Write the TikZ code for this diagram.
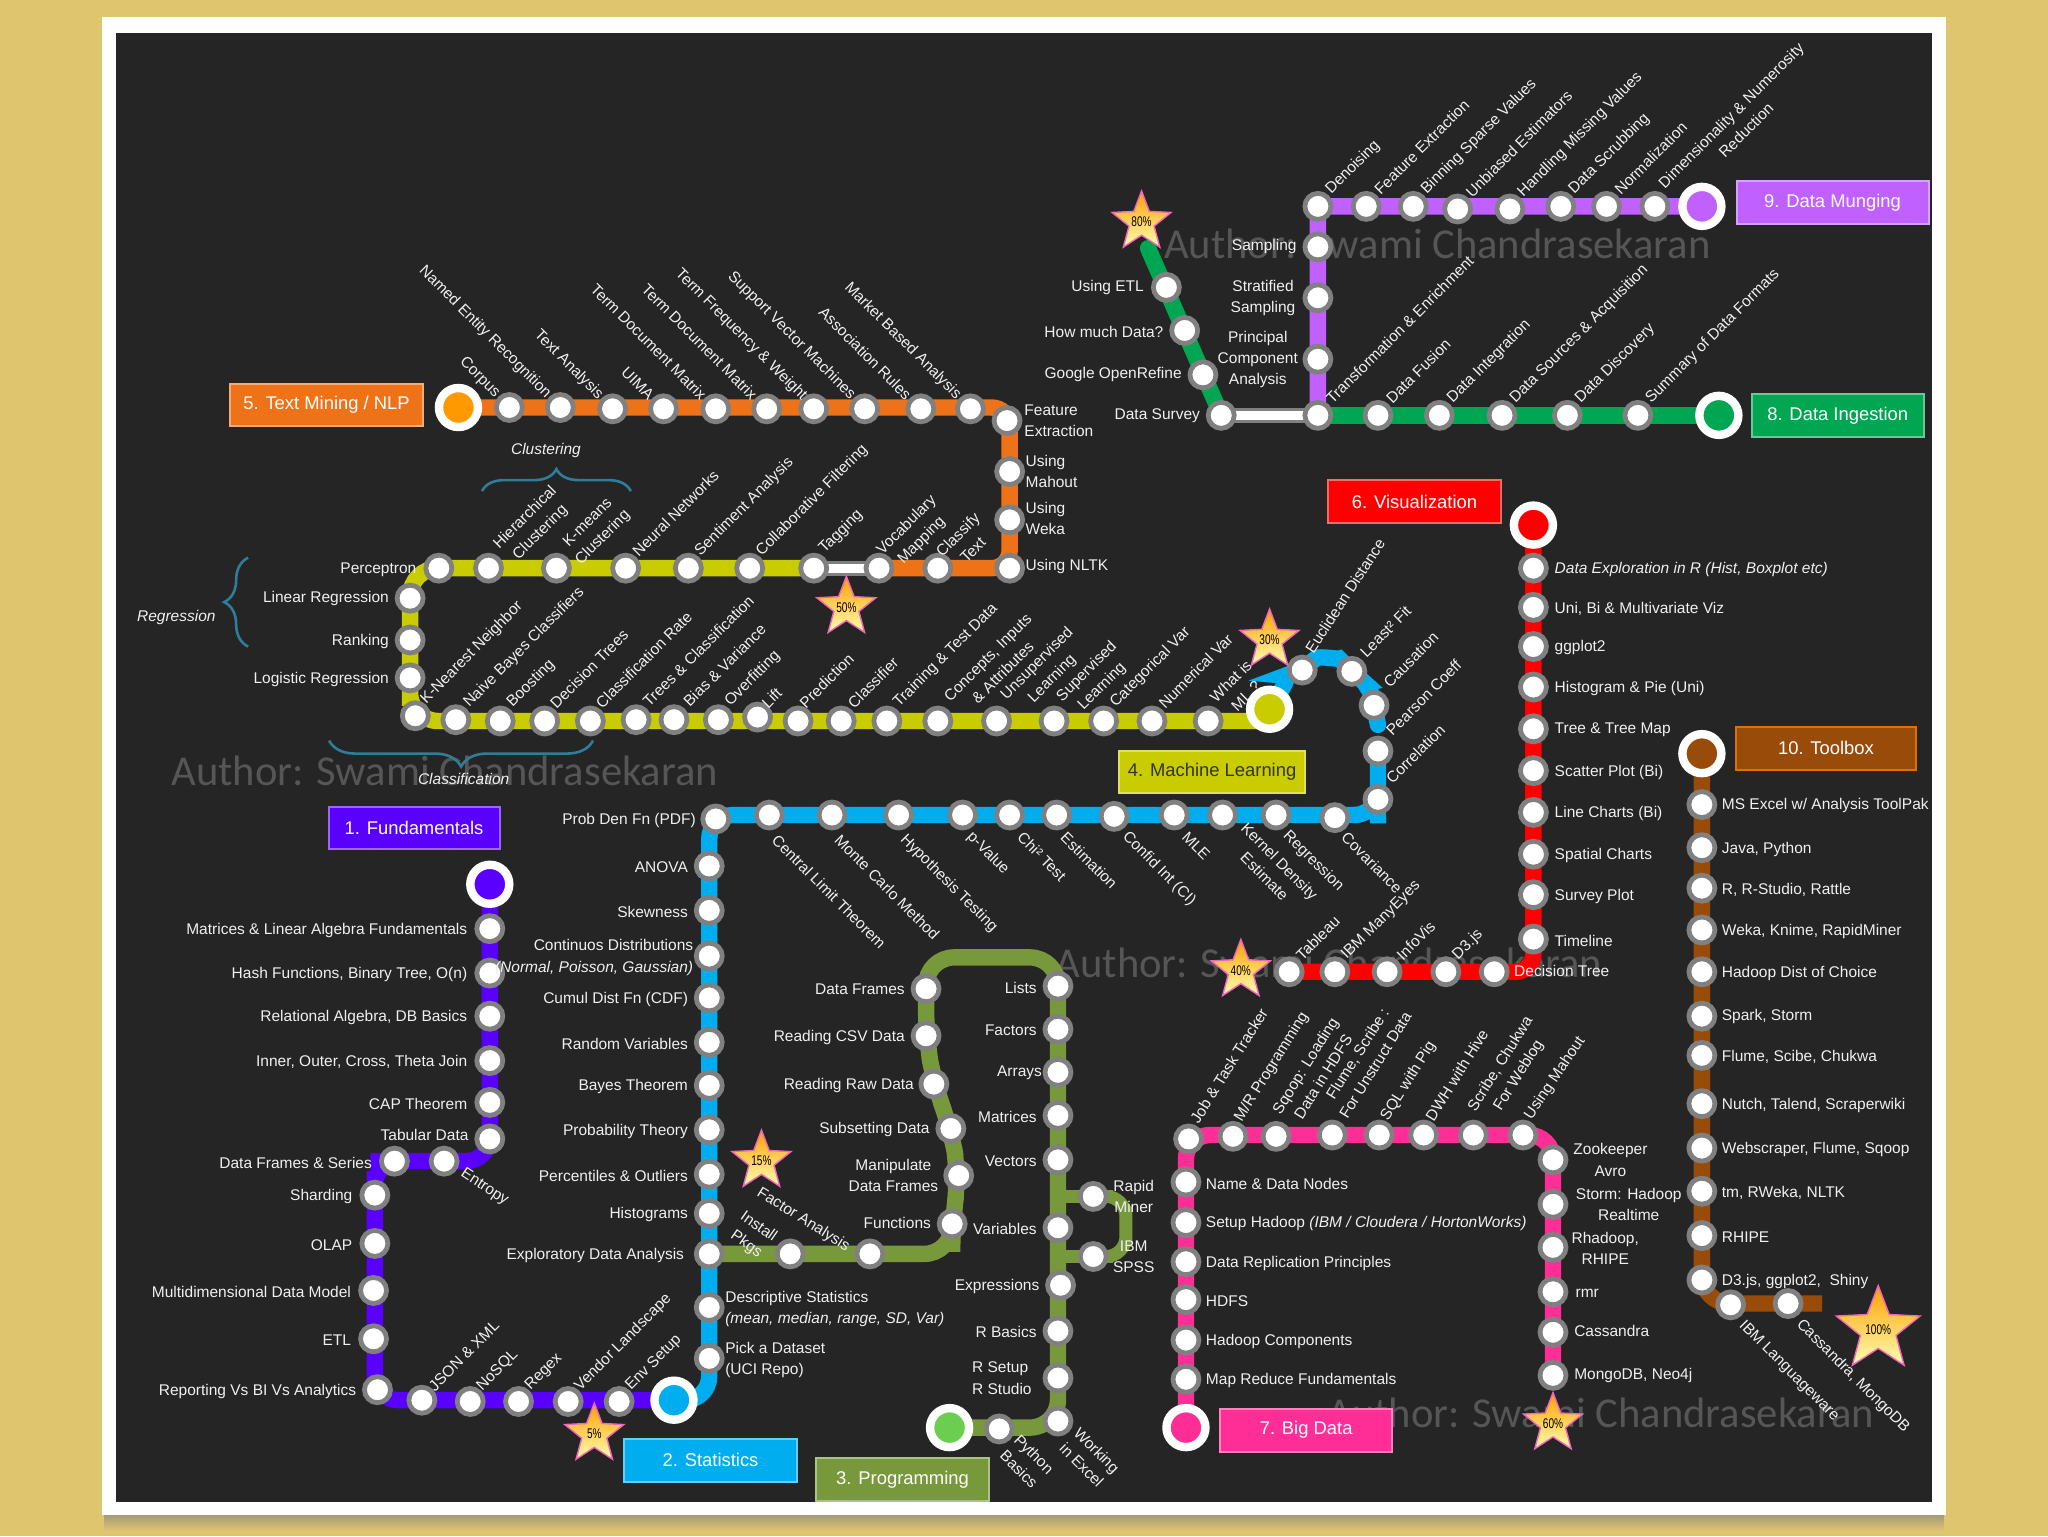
\documentclass[tikz,border=0pt]{standalone}
\usepackage{xcolor}
\usepackage{fontspec}
\usepackage{tikz}
\usetikzlibrary{backgrounds,shapes.geometric,decorations.pathreplacing}
\setmainfont{Liberation Sans}
\newfontfamily\wmfont{Carlito}
\newfontfamily\pctfont[FakeStretch=0.72]{Liberation Sans}

\definecolor{pagetan}{HTML}{DFC56E}
\definecolor{panel}{HTML}{252525}
\definecolor{fucol}{HTML}{5A00FF}
\definecolor{stcol}{HTML}{00AEEF}
\definecolor{prcol}{HTML}{77993C}
\definecolor{mlcol}{HTML}{C8CC00}
\definecolor{tmcol}{HTML}{EE7318}
\definecolor{vicol}{HTML}{FF0000}
\definecolor{bicol}{HTML}{FF2D96}
\definecolor{dicol}{HTML}{00A651}
\definecolor{dmcol}{HTML}{C060FF}
\definecolor{tocol}{HTML}{994C0A}
\definecolor{bracecol}{HTML}{2E7D9A}
\definecolor{txtcol}{HTML}{F0F0F0}
\definecolor{wmcol}{HTML}{565656}

\tikzset{
    stn/.style={circle,draw=gray,fill=white,line width=2.4pt,minimum size=13pt,inner sep=0pt},
    termin/.style={circle,draw=white,line width=4.2pt,minimum size=19.5pt,inner sep=0pt},
    metro/.style={line width=8.2pt,rounded corners=9pt},
    link/.style={line width=1.5pt,draw=gray,double=white,double distance=4.6pt},
    txt/.style={text=txtcol,font=\fontsize{7.75}{10.6}\selectfont,inner sep=0pt,yshift=-0.7pt},
    txtl/.style={txt,anchor=east},
    txtr/.style={txt,anchor=west,align=left},
    txtc/.style={txt,align=center},
    txtne/.style={txt,anchor=west,rotate=45},
    txtse/.style={txt,anchor=west,rotate=-45},
    txtnw/.style={txt,anchor=east,rotate=-45},
    banner/.style={minimum width=#1*0.653pt,minimum height=21.4pt,inner sep=0pt,text=white,
        line width=1pt,font=\fontsize{9.2}{11}\selectfont},
    pct/.style={star,star points=5,star point ratio=2.35,inner sep=-2.5pt,draw=magenta!60!white,line width=.7pt,
        top color=orange!75!yellow,bottom color=yellow!30!white,text=black,font=\pctfont\fontsize{7}{8}\selectfont},
    watermark/.style={text=wmcol,font=\wmfont\fontsize{21.3}{24}\selectfont,inner sep=0pt},
    brc/.style={draw=bracecol,line width=1.3pt,decorate},
}

\begin{document}
\begin{tikzpicture}[x=0.65306pt,y=-0.65306pt]
    \useasboundingbox (0,0) rectangle (1568,1176);

    % Page, frame and dark panel
    \begin{scope}[on background layer]
        \fill[pagetan] (0,0) rectangle (1568,1176);
        \shade[top color=gray!70!pagetan,bottom color=pagetan] (80,1158) rectangle (1488,1172);
        \fill[white] (78,13) rectangle (1490,1160);
        \fill[panel] (89,25) rectangle (1479,1150);
        \node[watermark,anchor=west] (wm1) at (891,187) {Author: Swami Chandrasekaran};
        \node[watermark,anchor=west] (wm2) at (131,590) {Author: Swami Chandrasekaran};
        \node[watermark,anchor=west] (wm3) at (808,737) {Author: Swami Chandrasekaran};
        \node[watermark,anchor=west] (wm4) at (1016,1082) {Author: Swami Chandrasekaran};
    \end{scope}

    % 1. Fundamentals
    \node[banner=131,fill=fucol,draw=fucol!60!white] (fuB) at (317,634) {1. Fundamentals};
    \node[termin,fill=fucol] (fuT) at (375,677) {};
    \node[stn] (fu1) at (375,711) {};   \node[txtl] (fu1t) at (358,711) {Matrices \& Linear Algebra Fundamentals};
    \node[stn] (fu2) at (375,745) {};   \node[txtl] (fu2t) at (358,745) {Hash Functions, Binary Tree, O(n)};
    \node[stn] (fu3) at (375,778) {};   \node[txtl] (fu3t) at (358,778) {Relational Algebra, DB Basics};
    \node[stn] (fu4) at (375,812) {};   \node[txtl] (fu4t) at (358,812) {Inner, Outer, Cross, Theta Join};
    \node[stn] (fu5) at (375,844) {};   \node[txtl] (fu5t) at (358,844) {CAP Theorem};
    \node[stn] (fu6) at (375,872) {};   \node[txtl] (fu6t) at (359,868) {Tabular Data};
    \node[stn] (fu7) at (340,889) {};   \node[txtc,rotate=-33] (fu7t) at (371,908) {Entropy};
    \node[stn] (fu8) at (302,889) {};   \node[txtl] (fu8t) at (285,889) {Data Frames \& Series};
    \node[stn] (fu9) at (287,915) {};   \node[txtl] (fu9t) at (270,915) {Sharding};
    \node[stn] (fu10) at (287,952) {};  \node[txtl] (fu10t) at (270,952) {OLAP};
    \node[stn] (fu11) at (286,988) {};  \node[txtl] (fu11t) at (269,988) {Multidimensional Data Model};
    \node[stn] (fu12) at (286,1025) {}; \node[txtl] (fu12t) at (269,1025) {ETL};
    \node[stn] (fu13) at (289,1064) {}; \node[txtl] (fu13t) at (273,1064) {Reporting Vs BI Vs Analytics};
    \node[stn] (fu14) at (323,1072) {}; \node[txtne] (fu14t) at (330,1062) {JSON \& XML};
    \node[stn] (fu15) at (360,1073) {}; \node[txtne] (fu15t) at (367,1062) {NoSQL};
    \node[stn] (fu16) at (397,1073) {}; \node[txtne] (fu16t) at (404,1062) {Regex};
    \node[stn] (fu17) at (435,1073) {}; \node[txtne] (fu17t) at (442,1062) {Vendor Landscape};
    \node[stn] (fu18) at (474,1073) {}; \node[txtne] (fu18t) at (481,1062) {Env Setup};

    % 2. Statistics
    \node[banner=132,fill=stcol,draw=stcol!60!white] (stB) at (544,1118) {2. Statistics};
    \node[termin,fill=stcol] (stT) at (516,1072) {};
    \node[stn] (st1) at (543,1040) {};  \node[txtr] (st1t) at (555,1040) {Pick a Dataset\\(UCI Repo)};
    \node[stn] (st2) at (543,1001) {};  \node[txtr] (st2t) at (555,1001) {Descriptive Statistics\\\textit{(mean, median, range, SD, Var)}};
    \node[stn] (st3) at (543,960) {};   \node[txtl] (st3t) at (524,960) {Exploratory Data Analysis};
    \node[stn] (st4) at (543,929) {};   \node[txtl] (st4t) at (527,929) {Histograms};
    \node[stn] (st5) at (543,899) {};   \node[txtl] (st5t) at (527,899) {Percentiles \& Outliers};
    \node[stn] (st6) at (543,865) {};   \node[txtl] (st6t) at (527,865) {Probability Theory};
    \node[stn] (st7) at (543,831) {};   \node[txtl] (st7t) at (527,831) {Bayes Theorem};
    \node[stn] (st8) at (543,798) {};   \node[txtl] (st8t) at (527,798) {Random Variables};
    \node[stn] (st9) at (543,764) {};   \node[txtl] (st9t) at (527,764) {Cumul Dist Fn (CDF)};
    \node[stn] (st10) at (543,732) {};  \node[txtl,align=right] (st10t) at (531,732) {Continuos Distributions\\\textit{(Normal, Poisson, Gaussian)}};
    \node[stn] (st11) at (543,697) {};  \node[txtl] (st11t) at (527,697) {Skewness};
    \node[stn] (st12) at (543,663) {};  \node[txtl] (st12t) at (527,663) {ANOVA};
    \node[stn] (st13) at (548,627) {};  \node[txtl] (st13t) at (533,627) {Prob Den Fn (PDF)};
    \node[stn] (st14) at (589,624) {};  \node[txtse] (st14t) at (593,640) {Central Limit Theorem};
    \node[stn] (st15) at (637,624) {};  \node[txtse] (st15t) at (641,640) {Monte Carlo Method};
    \node[stn] (st16) at (688,624) {};  \node[txtse] (st16t) at (691,640) {Hypothesis Testing};
    \node[stn] (st17) at (737,624) {};  \node[txtse] (st17t) at (742,638) {p-Value};
    \node[stn] (st18) at (773,624) {};  \node[txtse] (st18t) at (781,638) {Chi² Test};
    \node[stn] (st19) at (809,624) {};  \node[txtse] (st19t) at (814,638) {Estimation};
    \node[stn] (st20) at (853,625) {};  \node[txtse] (st20t) at (861,638) {Confid Int (CI)};
    \node[stn] (st21) at (899,624) {};  \node[txtse] (st21t) at (907,638) {MLE};
    \node[stn] (st22) at (936,624) {};  \node[txtc,rotate=-45] (st22t) at (974,664) {Kernel Density\\Estimate};
    \node[stn] (st23) at (977,624) {};  \node[txtse] (st23t) at (984,637) {Regression};
    \node[stn] (st24) at (1022,626) {}; \node[txtse] (st24t) at (1029,638) {Covariance};
    \node[stn] (st25) at (1055,612) {}; \node[txtne] (st25t) at (1063,597) {Correlation};
    \node[stn] (st26) at (1055,575) {}; \node[txtne] (st26t) at (1063,560) {Pearson Coeff};
    \coordinate (stE) at (1055,555);
    \node[stn] (st27) at (1052,540) {}; \node[txtne] (st27t) at (1061,523) {Causation};
    \node[stn] (st28) at (1035,514) {}; \node[txtne] (st28t) at (1043,500) {Least² Fit};
    \node[stn] (st29) at (997,513) {};  \node[txt,anchor=west,rotate=57] (st29t) at (1002,498) {Euclidean Distance};

    % 3. Programming
    \node[banner=132,fill=prcol,draw=prcol!60!white] (prB) at (691,1133) {3. Programming};
    \node[termin,fill=prcol!60!green!80!white] (prT) at (727,1093) {};
    \node[stn] (pr1) at (765,1094) {};  \node[txtc,rotate=-45] (pr1t) at (786,1118) {Python\\Basics};
    \node[stn] (pr2) at (810,1088) {};  \node[txtc,rotate=-45] (pr2t) at (834,1115) {Working\\in Excel};
    \node[stn] (pr3) at (810,1055) {};  \node[txtr] (pr3t) at (744,1054) {R Setup\\R Studio};
    \node[stn] (pr4) at (810,1019) {};  \node[txtl] (pr4t) at (794,1019) {R Basics};
    \node[stn] (pr5) at (812,984) {};   \node[txtl] (pr5t) at (796,984) {Expressions};
    \node[stn] (pr6) at (810,940) {};   \node[txtl] (pr6t) at (794,940) {Variables};
    \node[stn] (pr7) at (810,888) {};   \node[txtl] (pr7t) at (794,888) {Vectors};
    \node[stn] (pr8) at (810,854) {};   \node[txtl] (pr8t) at (794,854) {Matrices};
    \node[stn] (pr9) at (810,821) {};   \node[txtl] (pr9t) at (798,820) {Arrays};
    \node[stn] (pr10) at (810,788) {};  \node[txtl] (pr10t) at (794,788) {Factors};
    \node[stn] (pr11) at (810,755) {};  \node[txtl] (pr11t) at (794,755) {Lists};
    \node[stn] (pr12) at (709,757) {};  \node[txtl] (pr12t) at (693,756) {Data Frames};
    \node[stn] (pr13) at (709,793) {};  \node[txtl] (pr13t) at (693,793) {Reading CSV Data};
    \node[stn] (pr14) at (715,830) {};  \node[txtl] (pr14t) at (700,830) {Reading Raw Data};
    \node[stn] (pr15) at (728,864) {};  \node[txtl] (pr15t) at (712,864) {Subsetting Data};
    \node[stn] (pr16) at (734,900) {};  \node[txtc] (pr16t) at (684,899) {Manipulate\\Data Frames};
    \node[stn] (pr17) at (729,937) {};  \node[txtl] (pr17t) at (713,935) {Functions};
    \node[stn] (pr18) at (666,960) {};  \node[txtc,rotate=-32] (pr18t) at (615,933) {Factor Analysis};
    \node[stn] (pr19) at (605,960) {};  \node[txtc,rotate=-35] (pr19t) at (576,945) {Install\\Pkgs};
    \node[stn] (prR) at (837,916) {};   \node[txtc] (prRt) at (868,915) {Rapid\\Miner};
    \node[stn] (prS) at (837,962) {};   \node[txtc] (prSt) at (868,961) {IBM\\SPSS};
    \coordinate (prA) at (810,733);
    \coordinate (prC) at (709,733);
    \coordinate (prD) at (862,939);

    % 4. Machine Learning
    \node[banner=143,fill=mlcol,draw=mlcol!60!white,text=black!80] (mlB) at (928,591) {4. Machine Learning};
    \node[termin,fill=mlcol] (mlT) at (972,543) {};
    \node[stn] (ml1) at (925,552) {};   \node[txtc,rotate=45] (ml1t) at (948,526) {What is\\ML ?};
    \node[stn] (ml2) at (882,552) {};   \node[txtne] (ml2t) at (889,539) {Numerical Var};
    \node[stn] (ml3) at (845,552) {};   \node[txtne] (ml3t) at (852,539) {Categorical Var};
    \node[stn] (ml4) at (807,552) {};   \node[txtc,rotate=45] (ml4t) at (838,519) {Supervised\\Learning};
    \node[stn] (ml5) at (763,552) {};   \node[txtc,rotate=45] (ml5t) at (800,513) {Unsupervised\\Learning};
    \node[stn] (ml6) at (718,552) {};   \node[txtc,rotate=45] (ml6t) at (762,508) {Concepts, Inputs\\\& Attributes};
    \node[stn] (ml7) at (679,552) {};   \node[txtne] (ml7t) at (686,539) {Training \& Test Data};
    \node[stn] (ml8) at (644,552) {};   \node[txtne] (ml8t) at (651,539) {Classifier};
    \node[stn] (ml9) at (611,552) {};   \node[txtne] (ml9t) at (614,539) {Prediction};
    \node[stn] (ml10) at (580,549) {};  \node[txtne] (ml10t) at (585,539) {Lift};
    \node[stn] (ml11) at (550,551) {};  \node[txtne] (ml11t) at (557,538) {Overfitting};
    \node[stn] (ml12) at (516,551) {};  \node[txtne] (ml12t) at (525,538) {Bias \& Variance};
    \node[stn] (ml13) at (487,551) {};  \node[txtne] (ml13t) at (494,538) {Trees \& Classification};
    \node[stn] (ml14) at (452,552) {};  \node[txtne] (ml14t) at (458,539) {Classification Rate};
    \node[stn] (ml15) at (417,552) {};  \node[txtne] (ml15t) at (423,539) {Decision Trees};
    \node[stn] (ml16) at (383,552) {};  \node[txtne] (ml16t) at (390,539) {Boosting};
    \node[stn] (ml17) at (349,551) {};  \node[txtne] (ml17t) at (357,539) {Naive Bayes Classifiers};
    \node[stn] (ml18) at (318,548) {};  \node[txtne] (ml18t) at (324,536) {K-Nearest Neighbor};
    \node[stn] (ml19) at (314,519) {};  \node[txtl] (ml19t) at (298,519) {Logistic Regression};
    \node[stn] (ml20) at (314,490) {};  \node[txtl] (ml20t) at (298,490) {Ranking};
    \node[stn] (ml21) at (314,458) {};  \node[txtl] (ml21t) at (298,457) {Linear Regression};
    \node[stn] (ml22) at (336,435) {};  \node[txtl] (ml22t) at (319,435) {Perceptron};
    \node[stn] (ml23) at (374,435) {};  \node[txtc,rotate=45] (ml23t) at (408,401) {Hierarchical\\Clustering};
    \node[stn] (ml24) at (426,435) {};  \node[txtc,rotate=45] (ml24t) at (456,405) {K-means\\Clustering};
    \node[stn] (ml25) at (479,435) {};  \node[txtne] (ml25t) at (486,423) {Neural Networks};
    \node[stn] (ml26) at (527,435) {};  \node[txtne] (ml26t) at (534,423) {Sentiment Analysis};
    \node[stn] (ml27) at (574,435) {};  \node[txtne] (ml27t) at (581,423) {Collaborative Filtering};
    \node[stn] (ml28) at (623,435) {};  \node[txtne] (ml28t) at (629,421) {Tagging};

    % Braces over the groups of stations
    \draw[brc,decoration={brace,amplitude=11pt}] (369,376) -- (483,376);
    \draw[brc,decoration={brace,amplitude=12pt}] (190,495) -- (190,427);
    \draw[brc,decoration={brace,amplitude=13pt}] (454,567) -- (252,567);
    \node[txtc] (clusterT) at (418,344) {\textit{Clustering}};
    \node[txtc] (regressT) at (135,472) {\textit{Regression}};
    \node[txtc] (classifT) at (355,595) {\textit{Classification}};

    % 5. Text Mining
    \node[banner=148,fill=tmcol,draw=tmcol!60!white] (tmB) at (250,310) {5. Text Mining / NLP};
    \node[termin,fill=orange!80!yellow] (tmT) at (351,312) {};
    \node[stn] (tm1) at (390,312) {};   \node[txtnw] (tm1t) at (381,302) {Corpus};
    \node[stn] (tm2) at (429,312) {};   \node[txtnw] (tm2t) at (420,302) {Named Entity Recognition};
    \node[stn] (tm3) at (469,313) {};   \node[txtnw] (tm3t) at (460,303) {Text Analysis};
    \node[stn] (tm4) at (508,313) {};   \node[txtnw] (tm4t) at (499,303) {UIMA};
    \node[stn] (tm5) at (548,313) {};   \node[txtnw] (tm5t) at (539,303) {Term Document Matrix};
    \node[stn] (tm6) at (587,313) {};   \node[txtnw] (tm6t) at (578,303) {Term Document Matrix};
    \node[stn] (tm7) at (623,313) {};   \node[txtnw] (tm7t) at (616,304) {Term Frequency \& Weight};
    \node[stn] (tm8) at (662,313) {};   \node[txtnw] (tm8t) at (653,303) {Support Vector Machines};
    \node[stn] (tm9) at (705,313) {};   \node[txtnw] (tm9t) at (696,303) {Association Rules};
    \node[stn] (tm10) at (743,313) {};  \node[txtnw] (tm10t) at (734,303) {Market Based Analysis};
    \node[stn] (tm11) at (771,322) {};  \node[txtr] (tm11t) at (784,321) {Feature\\Extraction};
    \node[stn] (tm12) at (773,361) {};  \node[txtr] (tm12t) at (785,360) {Using\\Mahout};
    \node[stn] (tm13) at (773,398) {};  \node[txtr] (tm13t) at (785,396) {Using\\Weka};
    \node[stn] (tm14) at (773,435) {};  \node[txtr] (tm14t) at (785,433) {Using NLTK};
    \node[stn] (tm15) at (718,435) {};  \node[txtc,rotate=45] (tm15t) at (739,414) {Classify\\Text};
    \node[stn] (tm16) at (673,435) {};  \node[txtc,rotate=45] (tm16t) at (700,407) {Vocabulary\\Mapping};

    % 6. Visualization
    \node[banner=132,fill=vicol,draw=vicol!60!white] (viB) at (1083,384) {6. Visualization};
    \node[termin,fill=vicol] (viT) at (1174,402) {};
    \node[stn] (vi1) at (1174,435) {};  \node[txtr] (vi1t) at (1190,435) {\textit{Data Exploration in R (Hist, Boxplot etc)}};
    \node[stn] (vi2) at (1174,465) {};  \node[txtr] (vi2t) at (1190,465) {Uni, Bi \& Multivariate Viz};
    \node[stn] (vi3) at (1174,495) {};  \node[txtr] (vi3t) at (1190,495) {ggplot2};
    \node[stn] (vi4) at (1174,526) {};  \node[txtr] (vi4t) at (1190,526) {Histogram \& Pie (Uni)};
    \node[stn] (vi5) at (1174,558) {};  \node[txtr] (vi5t) at (1190,558) {Tree \& Tree Map};
    \node[stn] (vi6) at (1174,590) {};  \node[txtr] (vi6t) at (1190,590) {Scatter Plot (Bi)};
    \node[stn] (vi7) at (1174,622) {};  \node[txtr] (vi7t) at (1190,622) {Line Charts (Bi)};
    \node[stn] (vi8) at (1174,654) {};  \node[txtr] (vi8t) at (1190,654) {Spatial Charts};
    \node[stn] (vi9) at (1174,685) {};  \node[txtr] (vi9t) at (1190,685) {Survey Plot};
    \node[stn] (vi10) at (1174,719) {}; \node[txtr] (vi10t) at (1190,719) {Timeline};
    \node[stn] (vi11) at (1144,744) {}; \node[txtr] (vi11t) at (1159,742) {Decision Tree};
    \node[stn] (vi12) at (1107,744) {}; \node[txtne] (vi12t) at (1114,732) {D3.js};
    \node[stn] (vi13) at (1062,744) {}; \node[txtne] (vi13t) at (1071,732) {InfoVis};
    \node[stn] (vi14) at (1022,744) {}; \node[txtne] (vi14t) at (1029,732) {IBM ManyEyes};
    \node[stn] (vi15) at (987,744) {};  \node[txtne] (vi15t) at (994,732) {Tableau};

    % 7. Big Data
    \node[banner=132,fill=bicol,draw=bicol!60!white] (biB) at (1000,1095) {7. Big Data};
    \node[termin,fill=bicol] (biT) at (908,1093) {};
    \node[stn] (bi1) at (908,1056) {};  \node[txtr] (bi1t) at (923,1056) {Map Reduce Fundamentals};
    \node[stn] (bi2) at (908,1026) {};  \node[txtr] (bi2t) at (923,1026) {Hadoop Components};
    \node[stn] (bi3) at (908,995) {};   \node[txtr] (bi3t) at (923,995) {HDFS};
    \node[stn] (bi4) at (908,966) {};   \node[txtr] (bi4t) at (923,966) {Data Replication Principles};
    \node[stn] (bi5) at (908,936) {};   \node[txtr] (bi5t) at (923,936) {Setup Hadoop \textit{(IBM / Cloudera / HortonWorks)}};
    \node[stn] (bi6) at (908,905) {};   \node[txtr] (bi6t) at (923,905) {Name \& Data Nodes};
    \node[stn] (bi7) at (910,872) {};   \node[txt,anchor=west,rotate=58] (bi7t) at (914,858) {Job \& Task Tracker};
    \node[stn] (bi8) at (944,870) {};   \node[txt,anchor=west,rotate=58] (bi8t) at (948,857) {M/R Programming};
    \node[stn] (bi9) at (977,870) {};   \node[txtc,rotate=58] (bi9t) at (1006,819) {Sqoop: Loading\\Data in HDFS};
    \node[stn] (bi10) at (1020,869) {}; \node[txtc,rotate=58] (bi10t) at (1046,810) {Flume, Scribe :\\For Unstruct Data};
    \node[stn] (bi11) at (1056,869) {}; \node[txt,anchor=west,rotate=58] (bi11t) at (1060,856) {SQL with Pig};
    \node[stn] (bi12) at (1090,869) {}; \node[txt,anchor=west,rotate=58] (bi12t) at (1094,856) {DWH with Hive};
    \node[stn] (bi13) at (1128,869) {}; \node[txtc,rotate=58] (bi13t) at (1156,818) {Scribe, Chukwa\\For Weblog};
    \node[stn] (bi14) at (1166,869) {}; \node[txt,anchor=west,rotate=56] (bi14t) at (1170,855) {Using Mahout};
    \node[stn] (bi15) at (1189,888) {}; \node[txtc] (bi15t) at (1233,887) {Zookeeper\\Avro};
    \node[stn] (bi16) at (1189,922) {}; \node[txtc] (bi16t) at (1247,921) {Storm: Hadoop\\Realtime};
    \node[stn] (bi17) at (1189,955) {}; \node[txtc] (bi17t) at (1229,955) {Rhadoop,\\RHIPE};
    \node[stn] (bi18) at (1189,989) {}; \node[txtr] (bi18t) at (1206,989) {rmr};
    \node[stn] (bi19) at (1189,1020) {};\node[txtr] (bi19t) at (1205,1018) {Cassandra};
    \node[stn] (bi20) at (1189,1053) {};\node[txtr] (bi20t) at (1205,1052) {MongoDB, Neo4j};

    % 8. Data Ingestion
    \node[banner=132,fill=dicol,draw=dicol!60!white] (diB) at (1407,318) {8. Data Ingestion};
    \node[termin,fill=dicol] (diT) at (1316,318) {};
    \node[stn] (di1) at (1254,318) {};  \node[txtne] (di1t) at (1262,306) {Summary of Data Formats};
    \node[stn] (di2) at (1200,318) {};  \node[txtne] (di2t) at (1208,306) {Data Discovery};
    \node[stn] (di3) at (1150,318) {};  \node[txtne] (di3t) at (1158,306) {Data Sources \& Acquisition};
    \node[stn] (di4) at (1102,318) {};  \node[txtne] (di4t) at (1110,306) {Data Integration};
    \node[stn] (di5) at (1055,318) {};  \node[txtne] (di5t) at (1063,306) {Data Fusion};
    \node[stn] (di6) at (1009,318) {};  \node[txtne] (di6t) at (1017,306) {Transformation \& Enrichment};
    \node[stn] (di7) at (935,318) {};   \node[txtl] (di7t) at (919,317) {Data Survey};
    \node[stn] (di8) at (921,287) {};   \node[txtl] (di8t) at (905,286) {Google OpenRefine};
    \node[stn] (di9) at (907,253) {};   \node[txtl] (di9t) at (891,253) {How much Data?};
    \node[stn] (di10) at (893,220) {};  \node[txtl] (di10t) at (876,219) {Using ETL};
    \coordinate (diE) at (879,190);

    % 9. Data Munging
    \node[banner=147,fill=dmcol,draw=dmcol!60!white] (dmB) at (1403,155) {9. Data Munging};
    \node[termin,fill=dmcol] (dmT) at (1303,158) {};
    \node[stn] (dm1) at (1267,158) {};  \node[txtc,rotate=45] (dm1t) at (1331,93) {Dimensionality \& Numerosity\\Reduction};
    \node[stn] (dm2) at (1230,158) {};  \node[txtne] (dm2t) at (1238,146) {Normalization};
    \node[stn] (dm3) at (1195,158) {};  \node[txtne] (dm3t) at (1203,146) {Data Scrubbing};
    \node[stn] (dm4) at (1156,160) {};  \node[txtne] (dm4t) at (1164,148) {Handling Missing Values};
    \node[stn] (dm5) at (1116,160) {};  \node[txtne] (dm5t) at (1124,148) {Unbiased Estimators};
    \node[stn] (dm6) at (1082,158) {};  \node[txtne] (dm6t) at (1090,146) {Binning Sparse Values};
    \node[stn] (dm7) at (1046,158) {};  \node[txtne] (dm7t) at (1054,146) {Feature Extraction};
    \node[stn] (dm8) at (1009,158) {};  \node[txtne] (dm8t) at (1017,146) {Denoising};
    \node[stn] (dm9) at (1009,189) {};  \node[txtl] (dm9t) at (993,188) {Sampling};
    \node[stn] (dm10) at (1009,228) {}; \node[txtc] (dm10t) at (967,227) {Stratified\\Sampling};
    \node[stn] (dm11) at (1009,275) {}; \node[txtc] (dm11t) at (963,274) {Principal\\Component\\Analysis};

    % 10. Toolbox
    \node[banner=138,fill=tocol,draw=orange!70!tocol] (toB) at (1398,573) {10. Toolbox};
    \node[termin,fill=tocol] (toT) at (1303,577) {};
    \node[stn] (to1) at (1303,616) {};  \node[txtr] (to1t) at (1318,616) {MS Excel w/ Analysis ToolPak};
    \node[stn] (to2) at (1303,649) {};  \node[txtr] (to2t) at (1318,649) {Java, Python};
    \node[stn] (to3) at (1303,680) {};  \node[txtr] (to3t) at (1318,680) {R, R-Studio, Rattle};
    \node[stn] (to4) at (1303,712) {};  \node[txtr] (to4t) at (1318,712) {Weka, Knime, RapidMiner};
    \node[stn] (to5) at (1303,744) {};  \node[txtr] (to5t) at (1318,744) {Hadoop Dist of Choice};
    \node[stn] (to6) at (1303,778) {};  \node[txtr] (to6t) at (1318,777) {Spark, Storm};
    \node[stn] (to7) at (1303,808) {};  \node[txtr] (to7t) at (1318,808) {Flume, Scibe, Chukwa};
    \node[stn] (to8) at (1303,845) {};  \node[txtr] (to8t) at (1318,845) {Nutch, Talend, Scraperwiki};
    \node[stn] (to9) at (1303,879) {};  \node[txtr] (to9t) at (1318,879) {Webscraper, Flume, Sqoop};
    \node[stn] (to10) at (1303,912) {}; \node[txtr] (to10t) at (1318,912) {tm, RWeka, NLTK};
    \node[stn] (to11) at (1303,946) {}; \node[txtr] (to11t) at (1318,946) {RHIPE};
    \node[stn] (to12) at (1303,980) {}; \node[txtr] (to12t) at (1318,980) {D3.js, ggplot2,\ \ Shiny};
    \node[stn] (to13) at (1325,999) {}; \node[txtse] (to13t) at (1333,1012) {IBM Languageware};
    \node[stn] (to14) at (1369,998) {}; \node[txtse] (to14t) at (1377,1011) {Cassandra, MongoDB};
    \coordinate (toE) at (1395,998);

    % Progress stars
    \node[pct,minimum size=31pt] (pc5) at (455,1098) {5\%};
    \node[pct,minimum size=31pt] (pc15) at (583,889) {15\%};
    \node[pct,minimum size=31pt] (pc30) at (972,490) {30\%};
    \node[pct,minimum size=31pt] (pc40) at (950,743) {40\%};
    \node[pct,minimum size=31pt] (pc50) at (648,465) {50\%};
    \node[pct,minimum size=31pt] (pc60) at (1189,1090) {60\%};
    \node[pct,minimum size=31pt] (pc80) at (874,170) {80\%};
    \node[pct,minimum size=44pt] (pc100) at (1438,1018) {100\%};

    % Metro lines, under the stations
    \begin{scope}[on background layer]
        \draw[metro,fucol,rounded corners=12pt] (fuT.center) |- (fu8.center) -| (fu9.center) |- (stT.center);
        \draw[metro,stcol,rounded corners=12pt] (stT.center) -| (st12.center) |- (st14.center) -| (st25.center) -- (st26.center);
        \draw[metro,stcol,line cap=round] (mlT.center) .. controls (982,528) and (988,516) .. (st29.center)
            .. controls (1010,502) and (1026,505) .. (st28.center) .. controls (1044,522) and (1050,532) .. (st27.center) -- (stE);
        \draw[metro,mlcol,rounded corners=14pt] (mlT |- ml1) -| (ml19.center) |- (ml28.center);
        \draw[metro,tmcol] (tmT.center) -| (tm14.center) -- (tm16.center);
        \draw[link] (ml28.center) -- (tm16.center);
        \draw[metro,vicol] (viT.center) |- (vi15.center);
        \draw[metro,bicol,rounded corners=12pt] (biT.center) |- (bi10.center) -| (bi20.center);
        \draw[metro,dicol] (diT.center) -- (di6.center);
        \draw[metro,dicol,line cap=round] (di7.center) -- (diE);
        \draw[link] (di7.center) -- (di6.center);
        \draw[metro,dmcol,rounded corners=2pt] (dmT.center) -| (di6.center);
        \draw[metro,tocol,rounded corners=14pt] (toT.center) |- (toE);
        \draw[metro,prcol,rounded corners=14pt] (prT.center) -| (prA) -- (prC) -- (pr13.center) -- (pr14.center) -- (pr15.center)
            -- (pr16.center) -- (pr17.center) |- (st3.center);
        \draw[metro,prcol,line width=6.4pt,rounded corners=10pt] (pr6 |- prR) -- (prR.center) -| (prD) |- (prS.center) -- (pr6 |- prS);
    \end{scope}
\end{tikzpicture}
\end{document}
